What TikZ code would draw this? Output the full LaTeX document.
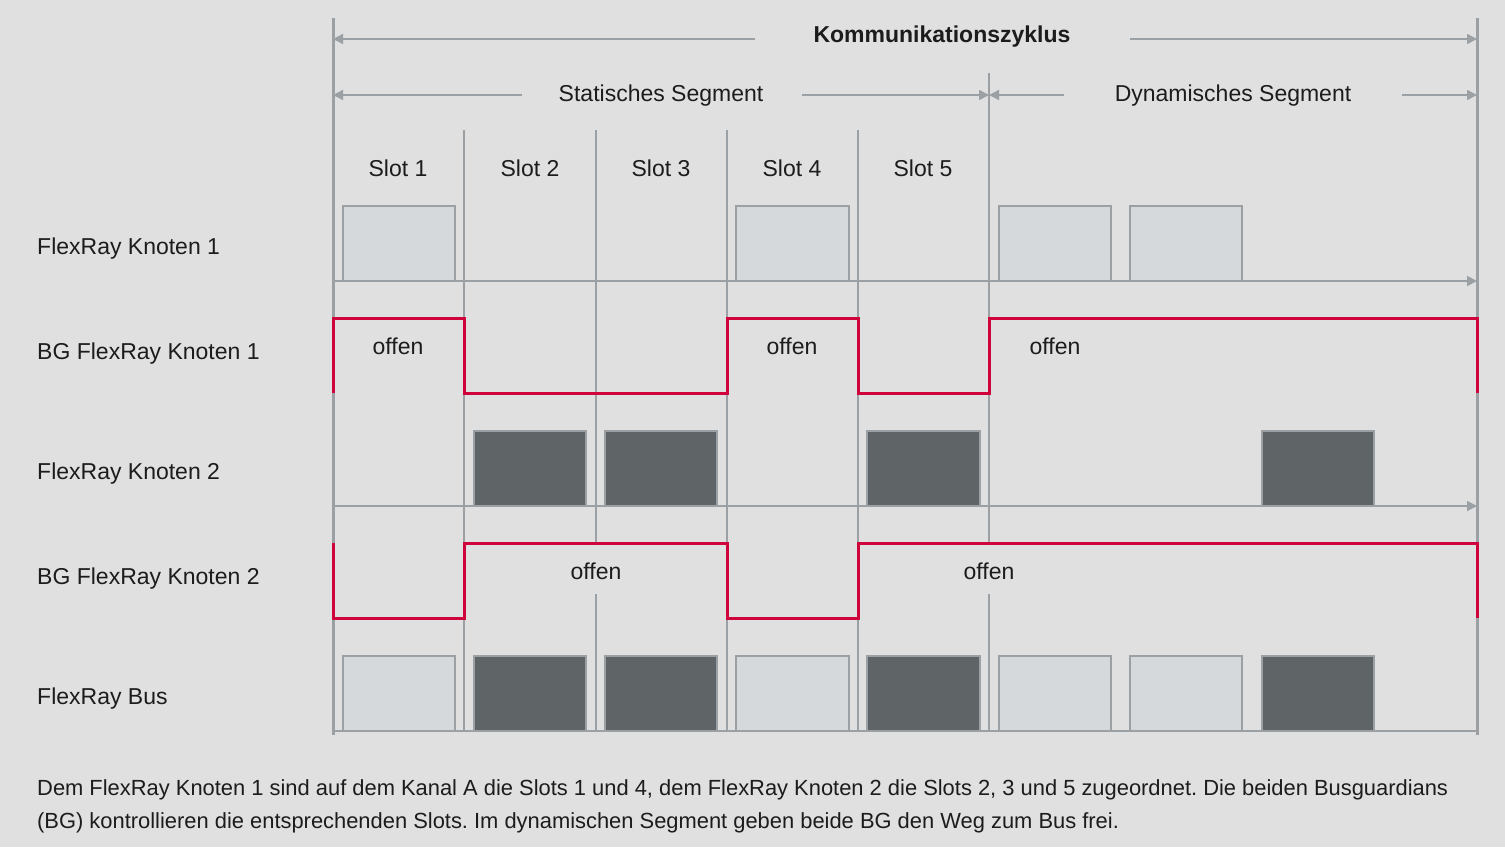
\documentclass[tikz,border=0pt]{standalone}
\usepackage{fontspec}
\setmainfont{Liberation Sans}
\usepackage{tikz}
\usetikzlibrary{arrows.meta}

\definecolor{bggray}{HTML}{E0E0E0}
\definecolor{linegray}{HTML}{9AA0A3}
\definecolor{lightslot}{HTML}{D5D9DC}
\definecolor{darkslot}{HTML}{5F6466}
\definecolor{guardred}{HTML}{D0043C}
\definecolor{txt}{HTML}{1C1C1C}

\tikzset{
  frame/.style={draw=linegray, line width=3pt},
  slotline/.style={draw=linegray, line width=1.3pt},
  axis/.style={draw=linegray, line width=1.8pt},
  span/.style={draw=linegray, line width=1.5pt, -{Triangle[length=10pt,width=10pt]}},
  lightbox/.style={fill=lightslot, draw=linegray, line width=1.5pt},
  darkbox/.style={fill=darkslot, draw=linegray, line width=1.5pt},
  guard/.style={draw=guardred, line width=3pt},
  lbl/.style={text=txt, inner sep=0pt, font=\fontsize{23}{27}\selectfont},
  rowlbl/.style={lbl, anchor=west},
}

\begin{document}
\frenchspacing
\begin{tikzpicture}[x=1pt, y=-1pt]

\fill[bggray] (0,0) rectangle (1505,847);
\useasboundingbox (0,0) rectangle (1505,847);

% Frame of the cycle
\coordinate (cl) at (333,18);
\coordinate (cr) at (1477,18);
\draw[frame] (cl) -- (333,735);
\draw[frame] (cr) -- (1477,735);

% Slot borders
\draw[slotline] (464,130) -- (464,731);
\draw[slotline] (596,130) -- (596,545) (596,594) -- (596,731);
\draw[slotline] (727,130) -- (727,731);
\draw[slotline] (858,130) -- (858,731);
\draw[slotline] (989,73) -- (989,545) (989,594) -- (989,731);

% Headings
\node[lbl, font=\fontsize{23}{27}\selectfont\bfseries] (kz) at (942,37) {Kommunikationszyklus};
\node[lbl] (stat) at (661,96) {Statisches Segment};
\node[lbl] (dyn) at (1233,96) {Dynamisches Segment};

\coordinate (kzl) at (755,39);
\coordinate (kzr) at (1130,39);
\coordinate (stl) at (522,95);
\coordinate (str) at (802,95);
\coordinate (dyl) at (1064,95);
\coordinate (dyr) at (1402,95);
\coordinate (sm) at (989,95);

\draw[span] (kzl) -- (333,39);
\draw[span] (kzr) -- (1477,39);
\draw[span] (stl) -- (333,95);
\draw[span] (str) -- (sm);
\draw[span] (dyl) -- (sm);
\draw[span] (dyr) -- (1477,95);

% Slot names
\node[lbl] (s1) at (398,168) {Slot 1};
\node[lbl] (s2) at (530,168) {Slot 2};
\node[lbl] (s3) at (661,168) {Slot 3};
\node[lbl] (s4) at (792,168) {Slot 4};
\node[lbl] (s5) at (923,168) {Slot 5};

% Row names
\node[rowlbl] (k1) at (37,249) {FlexRay Knoten 1};
\node[rowlbl] (bg1) at (37,354) {BG FlexRay Knoten 1};
\node[rowlbl] (k2) at (37,474) {FlexRay Knoten 2};
\node[rowlbl] (bg2) at (37,579) {BG FlexRay Knoten 2};
\node[rowlbl] (bus) at (37,699) {FlexRay Bus};

% Frames of Knoten 1
\draw[lightbox] (343,206) rectangle (455,281);
\draw[lightbox] (736,206) rectangle (849,281);
\draw[lightbox] (999,206) rectangle (1111,281);
\draw[lightbox] (1130,206) rectangle (1242,281);

% Frames of Knoten 2
\draw[darkbox] (474,431) rectangle (586,506);
\draw[darkbox] (605,431) rectangle (717,506);
\draw[darkbox] (867,431) rectangle (980,506);
\draw[darkbox] (1262,431) rectangle (1374,506);

% Frames on the bus
\draw[lightbox] (343,656) rectangle (455,731);
\draw[darkbox] (474,656) rectangle (586,731);
\draw[darkbox] (605,656) rectangle (717,731);
\draw[lightbox] (736,656) rectangle (849,731);
\draw[darkbox] (867,656) rectangle (980,731);
\draw[lightbox] (999,656) rectangle (1111,731);
\draw[lightbox] (1130,656) rectangle (1242,731);
\draw[darkbox] (1262,656) rectangle (1374,731);

% Time axes
\coordinate (a1) at (1477,281);
\coordinate (a2) at (1477,506);
\draw[axis, -{Triangle[length=10pt,width=10pt]}] (333,281) -- (a1);
\draw[axis, -{Triangle[length=10pt,width=10pt]}] (333,506) -- (a2);
\draw[axis] (333,731) -- (1477,731);

% Bus guardian 1
\draw[guard] (333,393) -- (333,318) -- (464,318) -- (464,393) -- (727,393)
  -- (727,318) -- (858,318) -- (858,393) -- (989,393) -- (989,318)
  -- (1477,318) -- (1477,393);
\node[lbl] (o1) at (398,346) {offen};
\node[lbl] (o2) at (792,346) {offen};
\node[lbl] (o3) at (1055,346) {offen};

% Bus guardian 2
\draw[guard] (333,543) -- (333,618) -- (464,618) -- (464,543) -- (727,543)
  -- (727,618) -- (858,618) -- (858,543) -- (1477,543) -- (1477,618);
\node[lbl] (o4) at (596,571) {offen};
\node[lbl] (o5) at (989,571) {offen};

% Caption
\node[text=txt, anchor=north west, align=left, inner sep=0pt,
  font=\fontsize{21.9}{33}\selectfont] (cap) at (37,779)
  {Dem FlexRay Knoten 1 sind auf dem Kanal A die Slots 1 und 4, dem FlexRay Knoten 2 die Slots 2, 3 und 5 zugeordnet. Die beiden Busguardians\\
   (BG) kontrollieren die entsprechenden Slots. Im dynamischen Segment geben beide BG den Weg zum Bus frei.};

\end{tikzpicture}
\end{document}
